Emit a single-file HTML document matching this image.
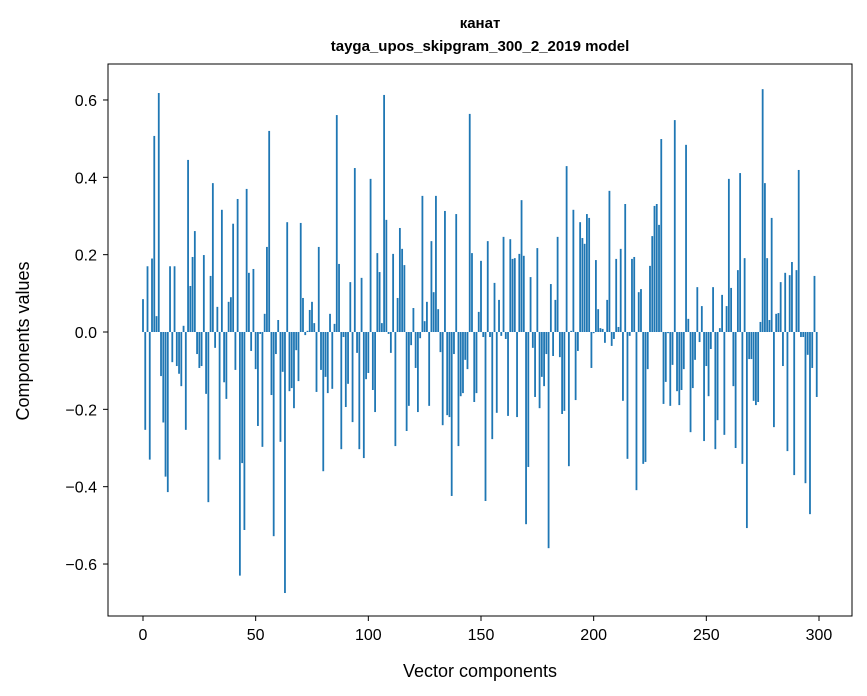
<!DOCTYPE html>
<html><head><meta charset="utf-8"><style>
html,body{margin:0;padding:0;background:#fff;}
svg{display:block;font-family:"Liberation Sans","DejaVu Sans",sans-serif;}
</style></head><body>
<svg id="chart" width="867" height="696" viewBox="0 0 867 696">
<rect width="867" height="696" fill="#fff"/>
<text x="480" y="28" text-anchor="middle" font-size="15" font-weight="bold">канат</text>
<text x="480" y="51" text-anchor="middle" font-size="15" font-weight="bold">tayga_upos_skipgram_300_2_2019 model</text>
<g id="bars"></g>
<g id="axes"></g>
<rect x="108" y="64" width="744" height="552" fill="none" stroke="#000" stroke-width="1"/>
<text x="480" y="677" text-anchor="middle" font-size="18">Vector components</text>
<text transform="translate(29,341) rotate(-90)" text-anchor="middle" font-size="18">Components values</text>
</svg>
<script>
const values = [
0.085,-0.253,0.17,-0.33,0.19,0.507,0.041,0.618,-0.114,-0.234,
-0.374,-0.414,0.17,-0.078,0.17,-0.088,-0.108,-0.14,0.016,-0.253,
0.445,0.119,0.194,0.261,-0.057,-0.093,-0.088,0.199,-0.16,-0.44,
0.145,0.385,-0.041,0.065,-0.33,0.316,-0.13,-0.173,0.078,0.09,
0.28,-0.098,0.344,-0.63,-0.339,-0.512,0.37,0.153,-0.049,0.163,
-0.096,-0.243,-0.005,-0.297,0.047,0.22,0.52,-0.163,-0.528,-0.057,
0.031,-0.284,-0.103,-0.675,0.284,-0.153,-0.145,-0.197,-0.047,-0.127,
0.282,0.088,-0.008,0.003,0.057,0.078,0.023,-0.155,0.22,-0.098,
-0.36,-0.116,-0.158,0.047,-0.147,0.021,0.561,0.176,-0.303,-0.013,
-0.194,-0.134,0.129,-0.233,0.424,-0.054,-0.303,0.14,-0.326,-0.122,
-0.106,0.396,-0.15,-0.207,0.204,0.155,0.023,0.613,0.29,-0.005,
-0.054,0.202,-0.295,0.088,0.269,0.215,0.173,-0.256,-0.191,-0.034,
0.062,-0.093,-0.207,-0.016,0.352,0.028,0.078,-0.191,0.235,0.103,
0.352,0.059,-0.052,-0.241,0.313,-0.215,-0.22,-0.424,-0.057,0.305,
-0.295,-0.166,-0.158,-0.072,-0.096,0.564,0.204,-0.181,-0.158,0.052,
0.184,-0.013,-0.437,0.235,-0.013,-0.277,0.127,-0.209,0.083,-0.01,
0.246,-0.018,-0.217,0.24,0.189,0.191,-0.22,0.202,0.341,0.197,
-0.497,-0.349,0.142,-0.041,-0.168,0.217,-0.197,-0.116,-0.14,-0.057,
-0.559,0.124,-0.062,0.083,0.246,-0.065,-0.212,-0.204,0.429,-0.347,
0.003,0.316,-0.176,-0.049,0.284,0.243,0.228,0.305,0.295,-0.093,
-0.003,0.186,0.059,0.01,0.008,-0.028,0.083,0.365,-0.036,-0.018,
0.189,0.013,0.215,-0.178,0.331,-0.328,-0.01,0.189,0.194,-0.409,
0.103,0.111,-0.341,-0.336,-0.096,0.171,0.248,0.326,0.331,0.277,
0.499,-0.186,-0.129,-0.003,-0.191,-0.085,0.548,-0.153,-0.189,-0.15,
-0.096,0.484,0.034,-0.259,-0.145,-0.072,0.116,-0.026,0.067,-0.282,
-0.088,-0.166,-0.044,0.116,-0.303,-0.228,0.01,0.096,-0.266,0.067,
0.396,0.114,-0.14,-0.3,0.16,0.411,-0.341,0.191,-0.507,-0.07,
-0.07,-0.178,-0.189,-0.181,0.026,0.628,0.385,0.191,0.031,0.295,
-0.246,0.047,0.049,0.129,-0.088,0.153,-0.308,0.147,0.181,-0.37,
0.16,0.419,-0.013,-0.013,-0.391,-0.059,-0.471,-0.093,0.145,-0.168
];
const xTicks = [0,50,100,150,200,250,300];
const yTicks = [-0.6,-0.4,-0.2,0.0,0.2,0.4,0.6];
const yTickLabels = ["\u22120.6","\u22120.4","\u22120.2","0.0","0.2","0.4","0.6"];

const NS = "http://www.w3.org/2000/svg";
const xPx = i => 143 + 2.2533 * i;
const yPx = v => 332 - 386.7 * v;
const barsG = document.getElementById('bars');
values.forEach((v, i) => {
  const r = document.createElementNS(NS, 'rect');
  const y0 = yPx(0), y1 = yPx(v);
  r.setAttribute('x', (xPx(i) - 0.9).toFixed(2));
  r.setAttribute('y', Math.min(y0, y1).toFixed(2));
  r.setAttribute('width', '1.8');
  r.setAttribute('height', Math.max(Math.abs(y1 - y0), 0.3).toFixed(2));
  r.setAttribute('fill', '#1f77b4');
  
  
  barsG.appendChild(r);
});
const axG = document.getElementById('axes');
xTicks.forEach(t => {
  const l = document.createElementNS(NS, 'line');
  l.setAttribute('x1', xPx(t)); l.setAttribute('x2', xPx(t));
  l.setAttribute('y1', 616); l.setAttribute('y2', 621);
  l.setAttribute('stroke', '#000');
  
  
  axG.appendChild(l);
  const tx = document.createElementNS(NS, 'text');
  tx.setAttribute('x', xPx(t)); tx.setAttribute('y', 640);
  tx.setAttribute('text-anchor', 'middle'); tx.setAttribute('font-size', '16');
  tx.textContent = String(t);
  
  
  axG.appendChild(tx);
});
yTicks.forEach((t, k) => {
  const l = document.createElementNS(NS, 'line');
  l.setAttribute('x1', 103); l.setAttribute('x2', 108);
  l.setAttribute('y1', yPx(t)); l.setAttribute('y2', yPx(t));
  l.setAttribute('stroke', '#000');
  
  
  axG.appendChild(l);
  const tx = document.createElementNS(NS, 'text');
  tx.setAttribute('x', 97); tx.setAttribute('y', yPx(t) + 6);
  tx.setAttribute('text-anchor', 'end'); tx.setAttribute('font-size', '16');
  tx.textContent = yTickLabels[k];
  
  
  axG.appendChild(tx);
});
</script>
</body></html>
